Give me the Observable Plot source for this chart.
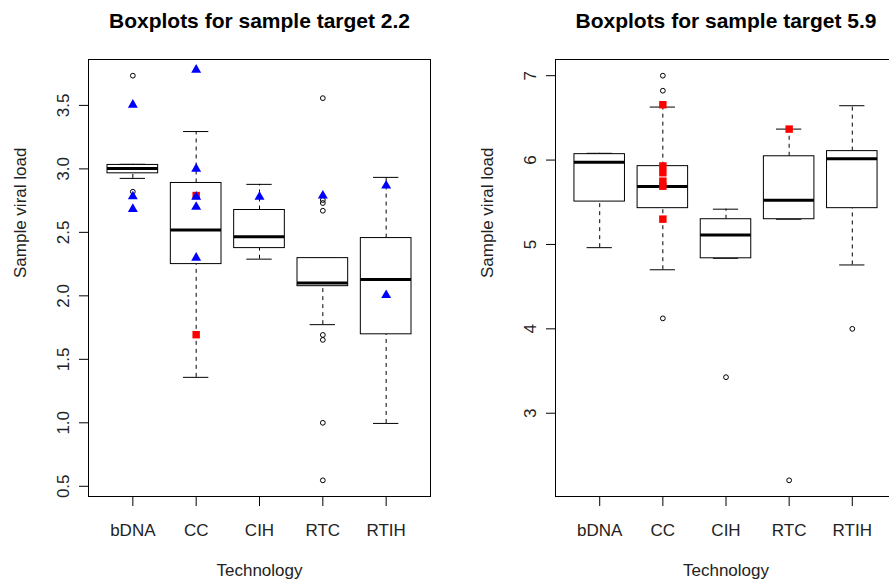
<!DOCTYPE html>
<html><head><meta charset="utf-8">
<script src="https://cdn.jsdelivr.net/npm/d3@7"></script>
<script src="https://cdn.jsdelivr.net/npm/@observablehq/plot@0.6"></script>
<style>
html,body{margin:0;padding:0;background:#fff;overflow:hidden;width:889px;height:580px;}
#wrap{position:relative;width:889px;height:580px;overflow:hidden;}
#left,#right{position:absolute;top:0;}
#left{left:0px;width:445px} #right{left:445px;width:460px}
svg{max-width:none !important;}
</style></head><body><div id="wrap"><div id="left"></div><div id="right"></div></div>
<script>
const technologies = ["bDNA","CC","CIH","RTC","RTIH"];

// Panel 1: sample target 2.2
const p1Lower  = [2.925, 1.358, 2.289, 1.773, 0.995];
const p1Q1     = [2.965, 2.250, 2.376, 2.076, 1.697];
const p1Median = [3.002, 2.518, 2.465, 2.102, 2.128];
const p1Q3     = [3.031, 2.889, 2.676, 2.297, 2.455];
const p1Upper  = [3.036, 3.294, 2.878, 2.297, 2.933];
const p1OutTech  = ["bDNA","bDNA","RTC","RTC","RTC","RTC","RTC","RTC","RTC","RTC"];
const p1OutValue = [3.734, 2.82, 3.557, 2.755, 2.731, 2.670, 1.692, 1.653, 1.0, 0.547];
const p1SquareTech  = ["CC","CC"];
const p1SquareValue = [2.79, 1.694];
const p1TriTech  = ["bDNA","bDNA","bDNA","CC","CC","CC","CC","CC","CIH","RTC","RTIH","RTIH"];
const p1TriValue = [3.505, 2.783, 2.683, 3.78, 3.0, 2.78, 2.70, 2.30, 2.78, 2.789, 2.868, 2.005];
const p1Ticks = [0.5, 1.0, 1.5, 2.0, 2.5, 3.0, 3.5];

// Panel 2: sample target 5.9
const p2Lower  = [4.962, 4.700, 4.836, 5.299, 4.757];
const p2Q1     = [5.508, 5.430, 4.836, 5.299, 5.430];
const p2Median = [5.975, 5.686, 5.113, 5.524, 6.015];
const p2Q3     = [6.070, 5.928, 5.299, 6.045, 6.106];
const p2Upper  = [6.080, 6.628, 5.418, 6.367, 6.644];
const p2OutTech  = ["CC","CC","CC","CIH","RTC","RTIH"];
const p2OutValue = [7.0, 6.822, 4.124, 3.427, 2.205, 4.0];
const p2SquareTech  = ["CC","CC","CC","CC","CC","CC","RTC"];
const p2SquareValue = [6.656, 5.93, 5.85, 5.75, 5.69, 5.30, 6.367];
const p2TriTech  = [];
const p2TriValue = [];
const p2Ticks = [3, 4, 5, 6, 7];

function panel(o) {
  const pos = t => technologies.indexOf(t) + 1;
  const boxes = technologies.map((t, i) => ({t, pos: i + 1, lo: o.lower[i], q1: o.q1[i], med: o.median[i], q3: o.q3[i], hi: o.upper[i]}));
  const outs = o.outTech.map((t, i) => ({pos: pos(t), v: o.outValue[i]}));
  const sqs = o.sqTech.map((t, i) => ({pos: pos(t), v: o.sqValue[i]}));
  const tris = o.triTech.map((t, i) => ({pos: pos(t), v: o.triValue[i]}));
  const [mn, mx] = d3.extent([...o.lower, ...o.upper, ...o.outValue]);
  const pad = (mx - mn) * 0.04;
  return Plot.plot({
    width: o.width, height: 580,
    marginLeft: o.marginLeft, marginRight: o.marginRight, marginTop: 59, marginBottom: 84,
    style: {fontFamily: "'Liberation Sans', Arial, sans-serif", fontSize: "17px", color: "black", background: "white", maxWidth: "none"},
    x: {type: "linear", domain: [0.3, 5.7]},
    y: {domain: [mn - pad, mx + pad]},
    marks: [
      Plot.ruleX(boxes, {x: "pos", y1: "q3", y2: "hi", stroke: "black", strokeDasharray: "4,4"}),
      Plot.ruleX(boxes, {x: "pos", y1: "lo", y2: "q1", stroke: "black", strokeDasharray: "4,4"}),
      Plot.ruleY(boxes, {y: "hi", x1: d => d.pos - 0.2, x2: d => d.pos + 0.2, stroke: "black"}),
      Plot.ruleY(boxes, {y: "lo", x1: d => d.pos - 0.2, x2: d => d.pos + 0.2, stroke: "black"}),
      Plot.rect(boxes, {x1: d => d.pos - 0.4, x2: d => d.pos + 0.4, y1: "q1", y2: "q3", fill: "white", stroke: "black"}),
      Plot.ruleY(boxes, {y: "med", x1: d => d.pos - 0.4, x2: d => d.pos + 0.4, stroke: "black", strokeWidth: 3}),
      Plot.dot(outs, {x: "pos", y: "v", r: 2.4, stroke: "black", strokeWidth: 1, fill: "none"}),
      Plot.dot(sqs, {x: "pos", y: "v", symbol: "square", r: 4.2, fill: "#ff0000"}),
      Plot.dot(tris, {x: "pos", y: "v", symbol: "triangle", r: 3.7, fill: "#0000ff"}),
      Plot.frame({stroke: "black"}),
      Plot.axisX({ticks: [1, 2, 3, 4, 5], tickFormat: i => technologies[i - 1], tickSize: 10, tickPadding: 17, label: null, fill: "#222"}),
      Plot.axisY({ticks: o.ticks, tickSize: 9, tickFormat: () => "", label: null}),
      Plot.text(o.ticks, {y: d => d, text: o.tickFmt, frameAnchor: "left", dx: -25.4, rotate: -90, textAnchor: "middle", lineAnchor: "middle", fill: "#222"}),
      Plot.text([o.title], {frameAnchor: "top", dy: -38.7, fontWeight: "bold", fontSize: 21, lineAnchor: "middle", fill: "black"}),
      Plot.text(["Sample viral load"], {frameAnchor: "left", dx: -68, rotate: -90, lineAnchor: "middle", fill: "#222"}),
      Plot.text(["Technology"], {frameAnchor: "bottom", dy: 74, lineAnchor: "middle", fill: "#222"})
    ]
  });
}

document.getElementById("left").append(panel({
  width: 445, marginLeft: 88, marginRight: 15,
  title: "Boxplots for sample target 2.2",
  ticks: p1Ticks, tickFmt: d => d.toFixed(1),
  lower: p1Lower, q1: p1Q1, median: p1Median, q3: p1Q3, upper: p1Upper,
  outTech: p1OutTech, outValue: p1OutValue,
  sqTech: p1SquareTech, sqValue: p1SquareValue,
  triTech: p1TriTech, triValue: p1TriValue
}));
document.getElementById("right").append(panel({
  width: 460, marginLeft: 110, marginRight: 9,
  title: "Boxplots for sample target 5.9",
  ticks: p2Ticks, tickFmt: d => String(d),
  lower: p2Lower, q1: p2Q1, median: p2Median, q3: p2Q3, upper: p2Upper,
  outTech: p2OutTech, outValue: p2OutValue,
  sqTech: p2SquareTech, sqValue: p2SquareValue,
  triTech: p2TriTech, triValue: p2TriValue
}));
</script></body></html>
